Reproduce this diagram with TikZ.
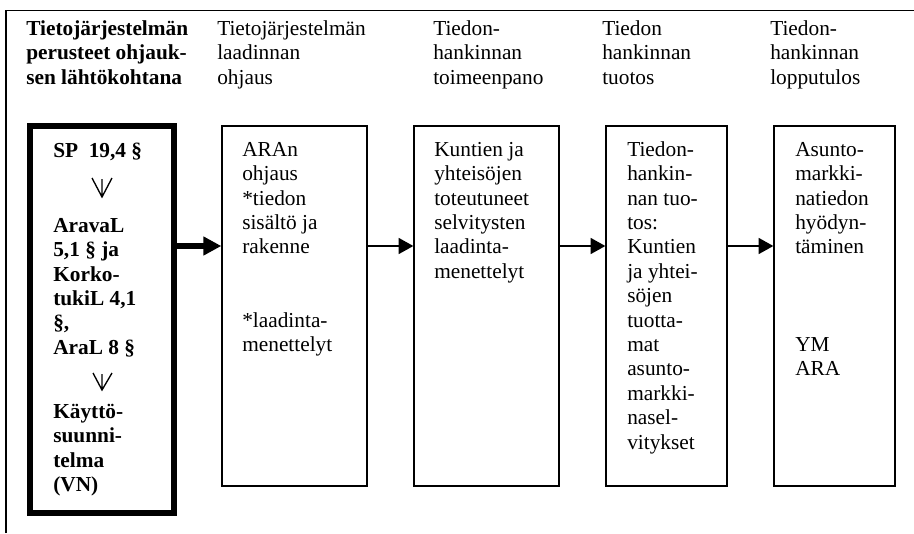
\documentclass[tikz,border=0pt]{standalone}
\usepackage{fontspec}
\setmainfont{Liberation Serif}
\usetikzlibrary{arrows.meta}
\begin{document}
\begin{tikzpicture}[x=0.75pt,y=-0.75pt,
  txt/.style={anchor=north west, inner sep=0pt, align=left,
    font=\fontsize{16}{18.3}\selectfont},
  btxt/.style={txt, font=\fontsize{16}{18.3}\selectfont\bfseries},
  box/.style={draw, line width=1pt, inner sep=0pt, minimum height=270pt},
  basebox/.style={draw, line width=4.5pt, inner sep=0pt},
  flow/.style={line width=1pt, -{Triangle[length=11pt,width=12pt]}},
  mainflow/.style={line width=4.5pt, -{Triangle[length=13.5pt,width=13.5pt]}},
  down/.style={line width=1pt, line join=miter},
  frame/.style={line width=1.2pt}
]
\useasboundingbox (0,0) rectangle (914,533);

% open frame along the top and left edges
\coordinate (fbl) at (6,533);
\coordinate (ftl) at (6,10.5);
\coordinate (ftr) at (914,10.5);
\draw[frame] (fbl) -- (ftl) -- (ftr);

% column headings
\node[btxt] (h1) at (26,18) {\strut Tietojärjestelmän\\perusteet ohjauk-\\sen lähtökohtana};
\node[txt] (h2) at (217,18) {\strut Tietojärjestelmän\\laadinnan\\ohjaus};
\node[txt] (h3) at (433,18) {\strut Tiedon-\\hankinnan\\toimeenpano};
\node[txt] (h4) at (602,18) {\strut Tiedon\\hankinnan\\tuotos};
\node[txt] (h5) at (770,18) {\strut Tiedon-\\hankinnan\\lopputulos};

% boxes
\node[basebox, minimum width=108pt, minimum height=290.25pt] (b1) at (102,319.5) {};
\node[box, minimum width=108.75pt] (b2) at (294.5,306) {};
\node[box, minimum width=108.75pt] (b3) at (486.5,306) {};
\node[box, minimum width=90.75pt] (b4) at (666.5,306) {};
\node[box, minimum width=90.75pt] (b5) at (834.5,306) {};

% contents of the legal-basis box
\node[btxt] (t1a) at (53,140) {\strut SP~~19,4 §};
\node[btxt] (t1b) at (53,215) {\strut AravaL\\5,1 § ja\\Korko-\\tukiL 4,1\\§,\\AraL 8 §};
\node[btxt] (t1c) at (53,401) {\strut Käyttö-\\suunni-\\telma\\(VN)};

% downward marks between the legal steps
\coordinate (d1l) at (92,178);
\coordinate (d1m) at (102,179);
\coordinate (d1r) at (112,178);
\coordinate (d1b) at (102,197);
\draw[down] (d1l) -- (d1b) -- (d1r) (d1m) -- (d1b);
\coordinate (d2l) at (93,373);
\coordinate (d2m) at (102,374);
\coordinate (d2r) at (112,373);
\coordinate (d2b) at (102,390);
\draw[down] (d2l) -- (d2b) -- (d2r) (d2m) -- (d2b);

% contents of the process boxes
\node[txt] (t2) at (242,139) {\strut ARAn\\ohjaus\\*tiedon\\sisältö ja\\rakenne\\[36.6pt]*laadinta-\\menettelyt};
\node[txt] (t3) at (434,139) {\strut Kuntien ja\\yhteisöjen\\toteutuneet\\selvitysten\\laadinta-\\menettelyt};
\node[txt] (t4) at (627,139) {\strut Tiedon-\\hankin-\\nan tuo-\\tos:\\Kuntien\\ja yhtei-\\söjen\\tuotta-\\mat\\asunto-\\markki-\\nasel-\\vitykset};
\node[txt] (t5) at (795,139) {\strut Asunto-\\markki-\\natiedon\\hyödyn-\\täminen\\[54.9pt]YM\\ARA};

% flow arrows
\coordinate (ay) at (0,246);
\draw[mainflow] (b1.east |- ay) -- (b2.west |- ay);
\draw[flow] (b2.east |- ay) -- (b3.west |- ay);
\draw[flow] (b3.east |- ay) -- (b4.west |- ay);
\draw[flow] (b4.east |- ay) -- (b5.west |- ay);
\end{tikzpicture}
\end{document}
